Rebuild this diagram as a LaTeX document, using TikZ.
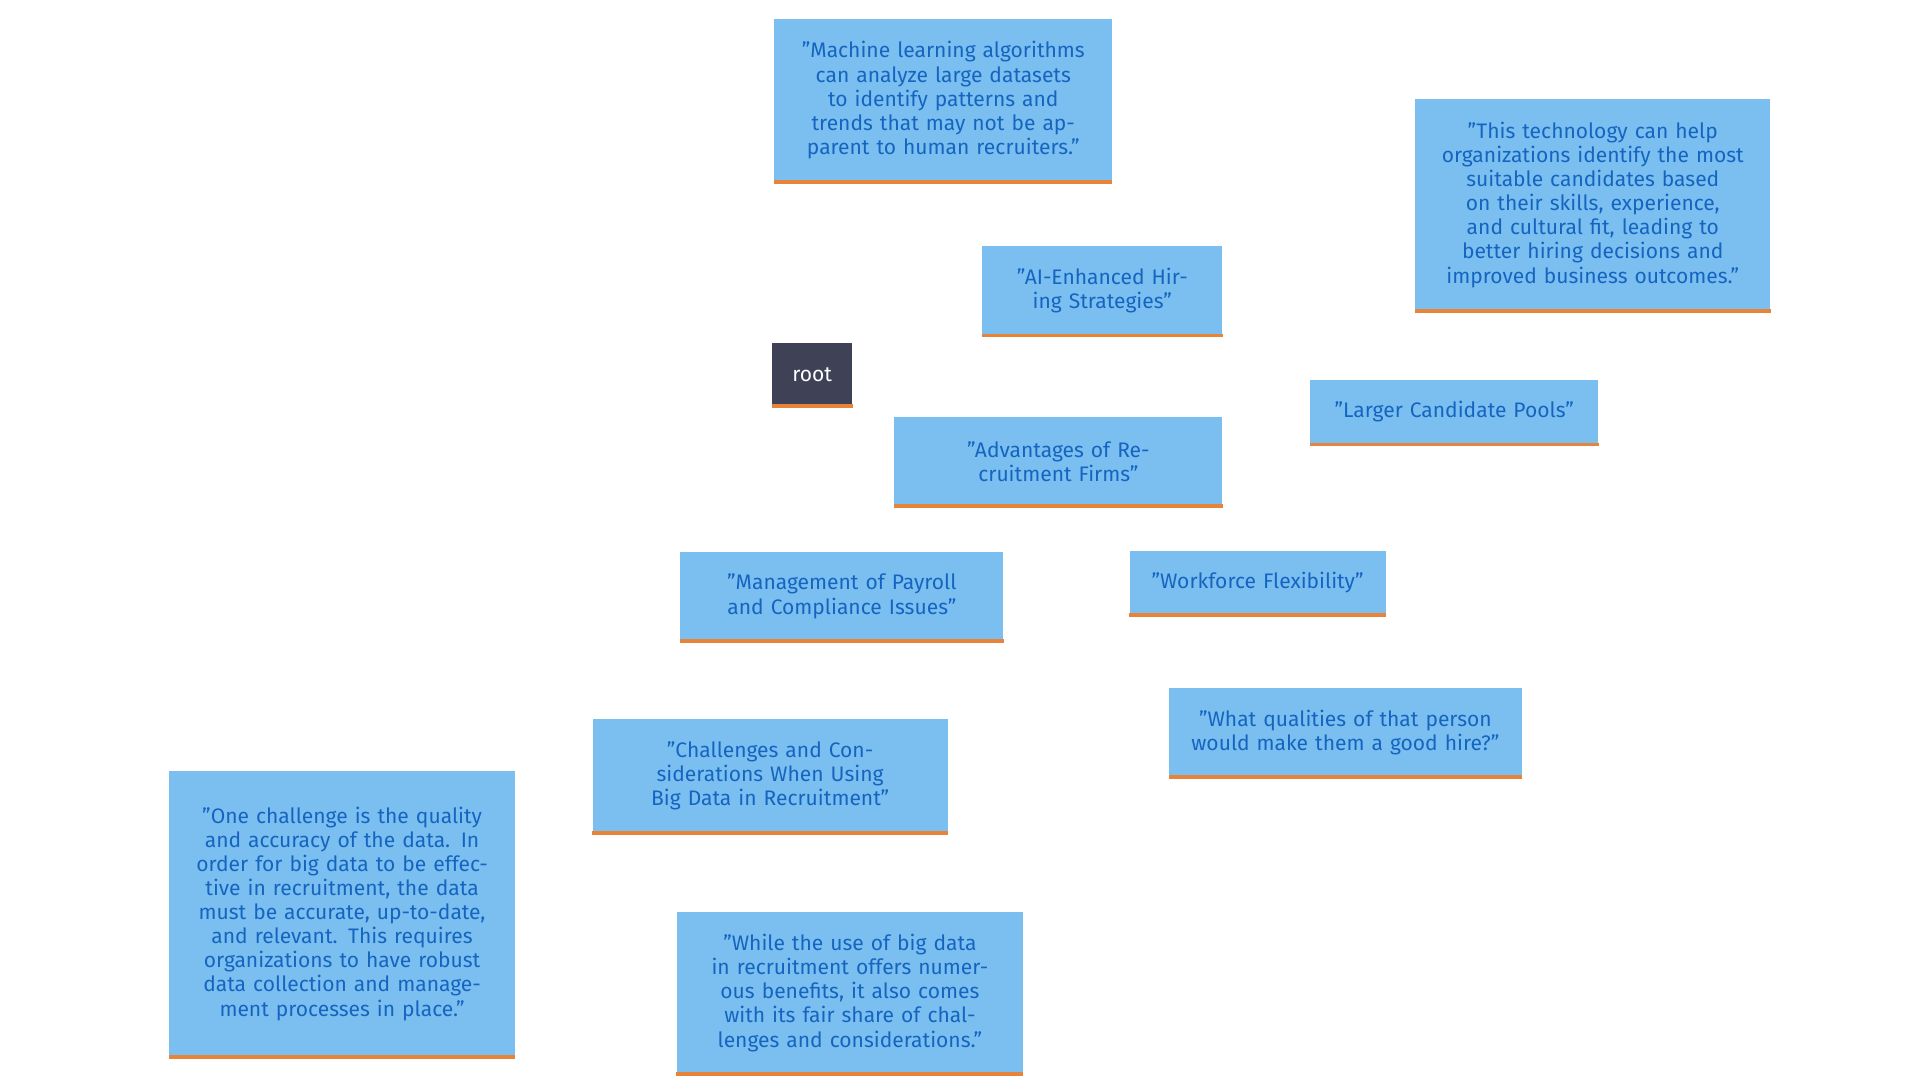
\documentclass[tikz,border=0pt]{standalone}
\usepackage{fontspec}
\setmainfont{Fira Sans}
\usetikzlibrary{backgrounds}
\definecolor{boxfill}{HTML}{7BBFF0}
\definecolor{boxtext}{HTML}{1565C0}
\definecolor{bar}{HTML}{E8833A}
\definecolor{rootfill}{HTML}{3F4257}
\begin{document}
\begin{tikzpicture}[x=1pt,y=-1pt,
  box/.style={fill=boxfill,text=boxtext,align=center,inner sep=0pt,font=\fontsize{17}{19.5}\selectfont},
  edge/.style={draw=boxfill,line width=3pt},
  barline/.style={draw=bar,line width=3pt}]
\useasboundingbox[fill=white] (0,0) rectangle (1552,873);
\node[box,fill=rootfill,text=white,minimum width=65pt,minimum height=51pt] (root) at (656.5,302.5) {root};
\node[box,minimum width=265pt,minimum height=72pt,text width=245pt] (adv) at (855.5,373) {"Advantages of Recruitment Firms"};
\node[box,minimum width=194pt,minimum height=72pt,text width=180pt] (ai) at (891,235) {"AI-Enhanced Hiring Strategies"};
\node[box,minimum width=273pt,minimum height=132pt,text width=255pt] (ml) at (762.5,81) {"Machine learning algorithms can analyze large datasets to identify patterns and trends that may not be apparent to human recruiters."};
\node[box,minimum width=233pt,minimum height=52pt,text width=225pt] (lcp) at (1175.5,333) {"Larger Candidate Pools"};
\node[box,minimum width=287pt,minimum height=171pt,text width=268pt] (tech) at (1287.5,165.5) {"This technology can help organizations identify the most suitable candidates based on their skills, experience, and cultural fit, leading to better hiring decisions and improved business outcomes."};
\node[box,minimum width=261pt,minimum height=72pt,text width=245pt] (pay) at (680.5,482) {"Management of Payroll and Compliance Issues"};
\node[box,minimum width=207pt,minimum height=52pt,text width=200pt] (wf) at (1016.5,471) {"Workforce Flexibility"};
\node[box,minimum width=285pt,minimum height=72pt,text width=265pt] (wq) at (1087.5,592) {"What qualities of that person would make them a good hire?"};
\node[box,minimum width=287pt,minimum height=92pt,text width=265pt] (ch) at (622.5,627) {"Challenges and Considerations When Using Big Data in Recruitment"};
\node[box,minimum width=279pt,minimum height=231pt,text width=255pt] (one) at (276.5,738.5) {"One challenge is the quality and accuracy of the data. In order for big data to be effective in recruitment, the data must be accurate, up-to-date, and relevant. This requires organizations to have robust data collection and management processes in place."};
\node[box,minimum width=280pt,minimum height=131pt,text width=262pt] (wh) at (687,802.5) {"While the use of big data in recruitment offers numerous benefits, it also comes with its fair share of challenges and considerations."};
\foreach \n in {root,adv,ai,ml,lcp,tech,pay,wf,wq,ch,one,wh}
  \draw[barline] (\n.south west) -- (\n.south east);
\begin{scope}[on background layer]
\draw[edge] (root) -- (adv);
\draw[edge] (adv) -- (ai);
\draw[edge] (ai) -- (ml);
\draw[edge] (adv) -- (lcp);
\draw[edge] (lcp) -- (tech);
\draw[edge] (adv) -- (pay);
\draw[edge] (adv) -- (wf);
\draw[edge] (wf) -- (wq);
\draw[edge] (pay) -- (ch);
\draw[edge] (ch) -- (one);
\draw[edge] (ch) -- (wh);
\end{scope}
\end{tikzpicture}
\end{document}
